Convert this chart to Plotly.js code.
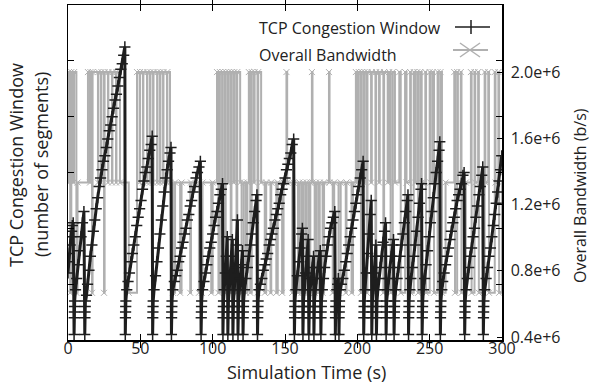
<!DOCTYPE html>
<html>
<head>
<meta charset="utf-8">
<script src="https://cdn.plot.ly/plotly-3.0.1.min.js"></script>
<style>html,body{margin:0;padding:0;background:#fff;}#chart{width:593px;height:384px;}</style>
</head>
<body>
<div id="chart"></div>
<script>
// TCP congestion window (segments): [time s, cwnd]
const cwndPoints = [
[0,12],[0.5,14],[1,15.5],[1.5,17],[2,18.5],[2.5,19.5],[3,20.5],[3.6,21],
[4.2,1],[4.3,4],[4.4,5],[4.5,6],[4.6,7],
[5.2,9],[6,11],[7,13.5],[8,16],[9,18.5],[10,21],[11,23],
[11.6,1],[11.7,4],[11.8,5],[11.9,6],[12.0,7],
[12.8,8],[13.5,10],[14.5,12.5],[15.5,15],[16.5,17],[17.5,19.5],[18.5,21.5],[19.5,23.5],[20.5,25.5],[21.5,27.5],[22.5,29],[23.5,30.5],[24.5,32],[25.5,33],[26.5,34.5],[27.5,36],[28.5,37.5],[29.5,38.5],[30.5,40],[31.5,41.5],[32.5,43],[33.5,44],[34.5,45.5],[35.5,47],[36.5,48.5],[37.5,49.5],[38.5,51],[39.3,52.5],
[39.6,1],[39.7,4],[39.8,5],[39.9,6],[40.0,7],
[40.6,9],[41.5,10.5],[42.5,12],[43.5,14],[44.5,15.5],[45.5,17],[46.5,18.5],[47.5,20.5],[48.5,22],[49.5,23.5],[50.5,25],[51.5,27],[52.5,28.5],[53.5,30],[54.5,31],[55.5,32.5],[56.5,34],[57.5,35],[58.2,36.5],
[58.5,1],[58.6,4],[58.7,5],[58.8,6],[58.9,7],
[59.5,9],[60.5,11.5],[61.5,14],[62.5,16.5],[63.5,19],[64.5,21.5],[65.5,24],[66.5,26.5],[67.5,29],[68.5,30.5],[69.5,32],[70.5,33.5],[71.2,34.5],
[71.5,1],[71.6,4],[71.7,5],[71.8,6],[71.9,7],
[72.5,9],[73.5,10.5],[74.5,11.5],[75.5,12.5],[76.5,14],[77.5,15],[78.5,16.5],[79.5,17.5],[80.5,19],[81.5,20],[82.5,21.5],[83.5,22.5],[84.5,24],[85.5,25],[86.5,26.5],[87.5,27.5],[88.5,29],[89.5,30],[90.5,31],[91.5,32],
[92,1],[92.1,4],[92.2,5],[92.3,6],[92.4,7],
[93,9],[94,10.5],[95,12],[96,13.5],[97,15],[98,16.5],[99,17.5],[100,19],[101,20.5],[102,22],[103,23],[104,24.5],[105,26],[106,27],[106.8,28],
[107.1,1],[107.2,4],[107.3,5],[107.4,6],[107.5,7],
[108,9],[108.7,12],[109.4,15],[110.1,18.5],
[110.5,1],[110.6,4],[110.7,5],[110.8,6],[110.9,7],
[111.5,9],[112.2,12],[112.9,15],[113.6,18],
[114,1],[114.1,4],[114.2,5],[114.3,6],[114.4,7],
[115,9],[115.7,13],[116.4,17],[117.1,21.5],
[117.5,1],[117.6,4],[117.7,5],[117.8,6],[117.9,7],
[118.5,9],[119.2,11],[119.9,13.5],[120.6,16],
[121,1],[121.1,4],[121.2,5],[121.3,6],[121.4,7],
[122,9],[123,11],[124,13],[125,15],[126,17],[127,19],[128,21],[129,23],[130,25],[130.6,26],
[131,1],[131.1,4],[131.2,5],[131.3,6],[131.4,7],
[132,9],[133,10],[134,11],[135,12.5],[136,13.5],[137,14.5],[138,15.5],[139,17],[140,18],[141,19],[142,20],[143,21.5],[144,22.5],[145,23.5],[146,24.5],[147,26],[148,27],[149,28],[150,29],[151,30.5],[152,31.5],[153,32.5],[154,33.5],[155,35],[156,36],
[156.5,1],[156.6,4],[156.7,5],[156.8,6],[156.9,7],
[157.5,9],[158.5,11.5],[159.5,14],[160.5,16.5],[161.5,19],[162,20],
[162.4,1],[162.5,4],[162.6,5],[162.7,6],[162.8,7],
[163.4,9],[164.2,12],[165,15],[166,18],
[166.5,1],[166.6,4],[166.7,5],[166.8,6],[166.9,7],
[167.4,9],[168.2,11],[169,13],[169.7,15],
[170,1],[170.1,4],[170.2,5],[170.3,6],[170.4,7],
[171,9],[171.8,11],[172.6,13],[173.6,15],[174.4,16],
[174.8,1],[174.9,4],[175.0,5],[175.1,6],[175.2,7],
[175.8,9],[176.6,11],[177.4,13],[178.4,15],[179.4,17],[180.4,18.5],[181.4,20],[182.4,21],[183.4,22],[184.4,23],
[184.8,1],[184.9,4],[185.0,5],[185.1,6],[185.2,7],
[185.8,9],[186.4,10],[186.9,11],
[187.3,1],[187.4,4],[187.5,5],[187.6,6],[187.7,7],
[188.2,9],[189,10],[190,11],[191,12.5],[192,14],[193,15.5],[194,17],[195,18.5],[196,20],[197,21.5],[198,23],[199,24.5],[200,26],[201,27.5],[202,29],[203,30.5],[204,32],
[204.4,1],[204.5,4],[204.6,5],[204.7,6],[204.8,7],
[205.3,9],[206.2,12],[207.1,15.5],[208,19],[208.9,22.5],[209.6,25],
[210,1],[210.1,4],[210.2,5],[210.3,6],[210.4,7],
[210.9,9],[211.6,12],[212.3,15],[212.8,17],
[213.2,1],[213.3,4],[213.4,5],[213.5,6],[213.6,7],
[214.2,9],[215,11],[215.8,13],[216.8,15],[217.8,17.5],[218.8,19.5],[219.5,21],
[219.9,1],[220.0,4],[220.1,5],[220.2,6],[220.3,7],
[220.9,9],[221.7,11],[222.5,13],[223.5,15],[224.5,17],[225,18],
[225.4,1],[225.5,4],[225.6,5],[225.7,6],[225.8,7],
[226.5,9],[227.5,11],[228.5,13],[229.5,15],[230.5,17],[231.5,19],[232.5,21],[233.5,23],[234.5,25],[235,26],
[235.4,1],[235.5,4],[235.6,5],[235.7,6],[235.8,7],
[236.3,9],[237,11],[238,13],[239,15],[240,17],[241,19.5],[242,22],[243,24.5],[244,27],[244.4,28],
[244.8,1],[244.9,4],[245.0,5],[245.1,6],[245.2,7],
[245.7,9],[246.5,11],[247.5,13.5],[248.5,16],[249.5,18.5],[250.5,21],[251.5,23],[252.5,25.5],[253.5,28],[254.5,30],[255.5,32],[256.5,34],[257,35.5],
[257.4,1],[257.5,4],[257.6,5],[257.7,6],[257.8,7],
[258.4,9],[259,10.5],[260,12],[261,13.5],[262,15],[263,16.5],[264,18],[265,19.5],[266,21],[267,22],[268,23.5],[269,25],[270,26],[271,27],[272,28],[273,29.5],[273.8,30],
[274.2,1],[274.3,4],[274.4,5],[274.5,6],[274.6,7],
[275.2,9],[276,11],[277,13],[278,15],[279,16.5],[280,18.5],[281,20],[282,22],[283,24],[284,26],[285,27.5],[286,29.5],[286.7,31],
[287.1,1],[287.2,4],[287.3,5],[287.4,6],[287.5,7],
[288.1,9],[289,11],[290,13],[291,15],[292,16.5],[293,18.5],[294,20.5],[295,22.5],[296,24.5],[297,26.5],[298,28.5],[299,30.5],[299.8,33]
];

// Overall bandwidth (b/s): [time s, new level] step changes
const bandwidthSteps = [
[0,1.333e6],[0.7,2.0e6],[1.5,0.667e6],[2.3,2.0e6],[3.6,1.333e6],[4.2,2.0e6],[5.8,0.667e6],[6.6,1.333e6],
[13.8,2.0e6],[15.2,1.333e6],[15.5,2.0e6],[16.6,0.667e6],[17.0,2.0e6],[20.7,1.333e6],[21.0,2.0e6],[22.8,1.333e6],[23.1,2.0e6],[24.9,0.667e6],[25.3,2.0e6],[27.6,1.333e6],[27.9,2.0e6],[30.4,1.333e6],[30.7,2.0e6],[33.2,1.333e6],[33.5,2.0e6],[35.9,1.333e6],
[42.0,0.667e6],[47.7,2.0e6],[49.5,1.333e6],[49.8,2.0e6],[51.8,1.333e6],[52.1,2.0e6],[54.6,1.333e6],[54.9,2.0e6],[56.7,1.333e6],[57.0,2.0e6],[58.8,1.333e6],[59.1,2.0e6],[61.6,1.333e6],[61.9,2.0e6],[63.6,1.333e6],[63.9,2.0e6],[65.7,1.333e6],[66.0,2.0e6],[68.4,1.333e6],[68.7,2.0e6],[70.5,1.333e6],
[72.5,0.667e6],[74.0,1.333e6],[77.5,0.667e6],[78.5,1.333e6],[84.5,0.667e6],[85.0,1.333e6],[90.5,0.667e6],[91.0,1.333e6],[92.5,0.667e6],[93.0,1.333e6],[99.0,0.667e6],[100.0,1.333e6],
[103.0,2.0e6],[104.0,0.667e6],[105.0,2.0e6],[106.5,1.333e6],[107.0,2.0e6],[108.5,0.667e6],[109.0,2.0e6],[110.5,1.333e6],[111.0,2.0e6],[112.5,0.667e6],[113.0,2.0e6],[114.5,1.333e6],[115.0,2.0e6],[116.5,0.667e6],[117.0,2.0e6],[119.0,1.333e6],
[120.0,0.667e6],[121.5,1.333e6],[123.0,0.667e6],[124.0,1.333e6],
[125.0,2.0e6],[126.0,0.667e6],[127.0,2.0e6],[128.5,1.333e6],[129.0,2.0e6],[131.0,0.667e6],[131.5,2.0e6],[133.5,1.333e6],
[136.0,0.667e6],[137.0,1.333e6],[140.0,0.667e6],[140.5,1.333e6],[144.0,0.667e6],[145.0,1.333e6],[148.0,0.667e6],[149.0,1.333e6],
[151.0,2.0e6],[151.5,1.333e6],[155.0,0.667e6],[156.0,1.333e6],[159.0,0.667e6],[160.0,1.333e6],[161.5,0.667e6],[162.5,1.333e6],[164.0,0.667e6],[165.0,1.333e6],[166.5,0.667e6],[167.5,1.333e6],
[168.6,2.0e6],[169.0,1.333e6],[170.5,0.667e6],[171.5,1.333e6],[173.0,0.667e6],[174.0,1.333e6],[176.0,0.667e6],[177.0,1.333e6],
[180.4,2.0e6],[180.8,1.333e6],[183.0,0.667e6],[184.0,1.333e6],[187.0,0.667e6],[188.5,1.333e6],[192.0,0.667e6],[192.5,1.333e6],[196.0,0.667e6],[197.0,1.333e6],
[199.0,2.0e6],[200.0,1.333e6],[201.0,2.0e6],[202.5,0.667e6],[203.0,2.0e6],[204.5,1.333e6],[205.0,2.0e6],[206.5,0.667e6],[207.0,2.0e6],[209.5,1.333e6],[210.0,2.0e6],
[212.5,0.667e6],[213.0,2.0e6],[215.0,1.333e6],[215.5,2.0e6],[218.0,0.667e6],[218.5,2.0e6],[221.0,1.333e6],[222.0,2.0e6],[223.0,0.667e6],[224.5,2.0e6],[226.0,1.333e6],
[229.0,2.0e6],[230.0,0.667e6],[233.0,2.0e6],[234.0,1.333e6],[236.5,2.0e6],[237.0,0.667e6],[239.0,2.0e6],[240.0,1.333e6],[241.5,2.0e6],[242.0,0.667e6],[243.5,2.0e6],[244.5,1.333e6],
[247.0,2.0e6],[247.5,0.667e6],[250.0,2.0e6],[250.5,1.333e6],[252.0,2.0e6],[253.0,0.667e6],[255.5,2.0e6],[256.0,1.333e6],[257.5,2.0e6],[258.5,0.667e6],[261.0,1.333e6],
[267.0,2.0e6],[267.5,0.667e6],[269.0,2.0e6],[269.5,1.333e6],[271.5,2.0e6],[272.0,0.667e6],[275.0,1.333e6],
[278.5,2.0e6],[279.0,0.667e6],[281.0,2.0e6],[281.5,1.333e6],[283.5,2.0e6],[284.0,0.667e6],[288.0,2.0e6],[288.5,1.333e6],[290.5,2.0e6],[291.0,0.667e6],[295.0,2.0e6],[295.5,1.333e6],[297.5,2.0e6],[298.0,0.667e6],[300,1.333e6]
];

const xTicks = [0, 50, 100, 150, 200, 250, 300];
const bwTickVals = [0.4e6, 0.8e6, 1.2e6, 1.6e6, 2.0e6];
const bwTickText = ['0.4e+6', '0.8e+6', '1.2e+6', '1.6e+6', '2.0e+6'];
const seriesNames = ['TCP Congestion Window', 'Overall Bandwidth'];

const FONT = '"Open Sans", Lato, sans-serif';
const GRAY = '#b0b0b0';
const BLACK = '#1e1e1e';

const bwTrace = {
  x: bandwidthSteps.map(p => p[0]),
  y: bandwidthSteps.map(p => p[1]),
  name: seriesNames[1],
  type: 'scatter', mode: 'lines+markers',
  line: {color: GRAY, width: 2, shape: 'hv'},
  marker: {symbol: 'x-thin-open', size: 6, line: {color: GRAY, width: 1}},
  xaxis: 'x', yaxis: 'y', showlegend: false
};
const cwTrace = {
  x: cwndPoints.map(p => p[0]),
  y: cwndPoints.map(p => p[1]),
  name: seriesNames[0],
  type: 'scatter', mode: 'lines+markers',
  line: {color: BLACK, width: 3},
  marker: {symbol: 'cross-thin-open', size: 8, line: {color: BLACK, width: 1.5}},
  xaxis: 'x', yaxis: 'y2', showlegend: false
};

function px(x){ return (x - 68) / 434; }
function py(y){ return (340 - y) / 335; }
const f16 = {family: FONT, size: 16, color: '#222'};
const fTitle = {family: FONT, size: 18, color: '#222'};
const fRight = {family: FONT, size: 16, color: '#222'};

const layout = {
  width: 593, height: 384,
  margin: {l: 68, r: 91, t: 5, b: 44, pad: 0},
  paper_bgcolor: '#fff', plot_bgcolor: '#fff',
  showlegend: false,
  font: f16,
  xaxis: {
    range: [0, 300], tickvals: xTicks, ticktext: xTicks.map(String),
    ticks: 'inside', ticklen: 6, tickwidth: 1, tickcolor: '#000',
    showline: true, linecolor: '#000', linewidth: 1.5, mirror: 'allticks',
    showgrid: false, zeroline: false, ticklabelstandoff: -7,
    tickfont: f16
  },
  yaxis: {
    side: 'right', range: [0.382e6, 2.405e6],
    tickvals: bwTickVals, ticktext: bwTickText,
    ticks: 'inside', ticklen: 5, tickwidth: 1, tickcolor: '#000',
    showline: true, linecolor: '#000', linewidth: 1.5,
    showgrid: false, zeroline: false, ticklabelstandoff: 4,
    tickfont: f16
  },
  yaxis2: {
    overlaying: 'y', side: 'left', range: [0, 60], dtick: 10, tick0: 0,
    ticks: 'inside', ticklen: 6, tickwidth: 1, tickcolor: '#000',
    showticklabels: false, showline: true, linecolor: '#000', linewidth: 1.5, mirror: 'ticks',
    showgrid: false, zeroline: false
  },
  annotations: [
    {text: 'Simulation Time (s)', xref: 'paper', yref: 'paper', x: px(306), y: py(372), xanchor: 'center', yanchor: 'middle', showarrow: false, font: fTitle},
    {text: 'TCP Congestion Window', xref: 'paper', yref: 'paper', x: px(16), y: py(165), xanchor: 'center', yanchor: 'middle', textangle: -90, showarrow: false, font: fTitle},
    {text: '(number of segments)', xref: 'paper', yref: 'paper', x: px(41), y: py(165), xanchor: 'center', yanchor: 'middle', textangle: -90, showarrow: false, font: fTitle},
    {text: 'Overall Bandwidth (b/s)', xref: 'paper', yref: 'paper', x: px(580), y: py(196), xanchor: 'center', yanchor: 'middle', textangle: -90, showarrow: false, font: fRight},
    {text: seriesNames[0], xref: 'paper', yref: 'paper', x: px(257), y: py(28), xanchor: 'left', yanchor: 'middle', showarrow: false, font: f16},
    {text: seriesNames[1], xref: 'paper', yref: 'paper', x: px(257), y: py(55), xanchor: 'left', yanchor: 'middle', showarrow: false, font: f16}
  ],
  shapes: [
    {type: 'line', xref: 'paper', yref: 'paper', x0: px(455), x1: px(490), y0: py(27), y1: py(27), line: {color: BLACK, width: 1.5}},
    {type: 'line', xref: 'paper', yref: 'paper', x0: px(471), x1: px(471), y0: py(20), y1: py(34), line: {color: BLACK, width: 1.5}},
    {type: 'line', xref: 'paper', yref: 'paper', x0: px(453), x1: px(488), y0: py(50), y1: py(50), line: {color: GRAY, width: 2}},
    {type: 'line', xref: 'paper', yref: 'paper', x0: px(460), x1: px(480), y0: py(43), y1: py(57), line: {color: GRAY, width: 1.5}},
    {type: 'line', xref: 'paper', yref: 'paper', x0: px(460), x1: px(480), y0: py(57), y1: py(43), line: {color: GRAY, width: 1.5}}
  ]
};

Plotly.newPlot('chart', [bwTrace, cwTrace], layout, {staticPlot: true, displayModeBar: false});
</script>
</body>
</html>
